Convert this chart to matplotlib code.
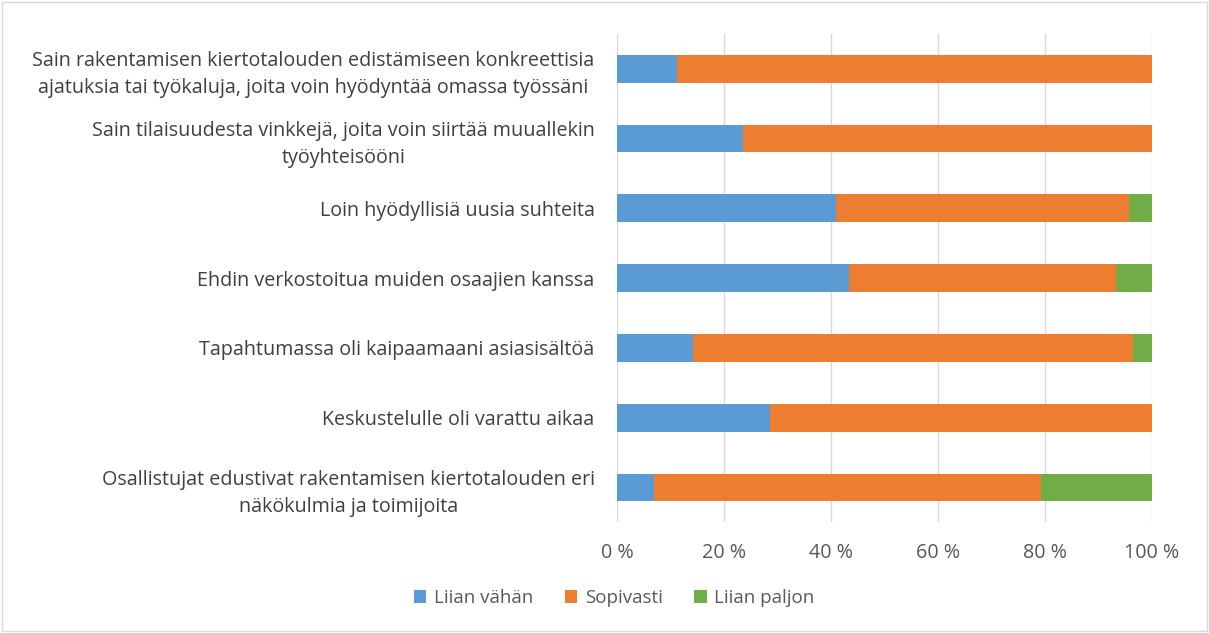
import numpy as np
import matplotlib.pyplot as plt
from matplotlib.ticker import FuncFormatter
from matplotlib.patches import Rectangle

plt.rcParams['font.family'] = ['Open Sans', 'DejaVu Sans']

# categories, top to bottom as in the picture
categories = [
    "Sain rakentamisen kiertotalouden edistämiseen konkreettisia\najatuksia tai työkaluja, joita voin hyödyntää omassa työssäni",
    "Sain tilaisuudesta vinkkejä, joita voin siirtää muuallekin\ntyöyhteisööni",
    "Loin hyödyllisiä uusia suhteita",
    "Ehdin verkostoitua muiden osaajien kanssa",
    "Tapahtumassa oli kaipaamaani asiasisältöä",
    "Keskustelulle oli varattu aikaa",
    "Osallistujat edustivat rakentamisen kiertotalouden eri\nnäkökulmia ja toimijoita",
]
liian_vahan = [11.2, 23.6, 40.9, 43.4, 14.3, 28.6, 6.9]
sopivasti = [88.8, 76.4, 54.7, 49.9, 82.2, 71.4, 72.4]
liian_paljon = [0.0, 0.0, 4.4, 6.7, 3.5, 0.0, 20.7]

series = ["Liian vähän", "Sopivasti", "Liian paljon"]
colors = ["#5B9BD5", "#ED7D31", "#70AD47"]

fig = plt.figure(figsize=(12.09, 6.33), dpi=100)
ax = fig.add_axes([0.5103, 0.1747, 0.4426, 0.7719])

y = np.arange(len(categories))
left = np.zeros(len(categories))
for name, vals, c in zip(series, [liian_vahan, sopivasti, liian_paljon], colors):
    ax.barh(y, vals, left=left, height=0.4, color=c, label=name, zorder=3)
    left += np.array(vals)

ax.set_ylim(len(categories) - 0.5, -0.5)
ax.set_xlim(0, 100)
ax.set_yticks(y)
ax.set_yticklabels(categories, fontsize=14.2, color="#404040",
                   multialignment="center", linespacing=1.45)
ax.set_xticks(np.arange(0, 101, 20))
ax.xaxis.set_major_formatter(FuncFormatter(lambda v, p: f"{int(v)} %"))
ax.tick_params(axis='y', length=0, pad=16)
ax.tick_params(axis='x', length=0, pad=15, labelsize=14.2, labelcolor="#595959")
ax.grid(axis='x', color="#D9D9D9", linewidth=1, zorder=0)
for s in ax.spines.values():
    s.set_visible(False)

fig.legend(loc='center', bbox_to_anchor=(0.508, 0.055), ncol=3, frameon=False,
           fontsize=13.5, handlelength=0.65, handleheight=0.65, columnspacing=1.7,
           handletextpad=0.4, labelcolor="#595959")

fig.patches.append(Rectangle((0.002, 0.003), 0.996, 0.994, transform=fig.transFigure,
                             fill=False, edgecolor="#D9D9D9", linewidth=1))

plt.savefig("out.png", dpi=100)
